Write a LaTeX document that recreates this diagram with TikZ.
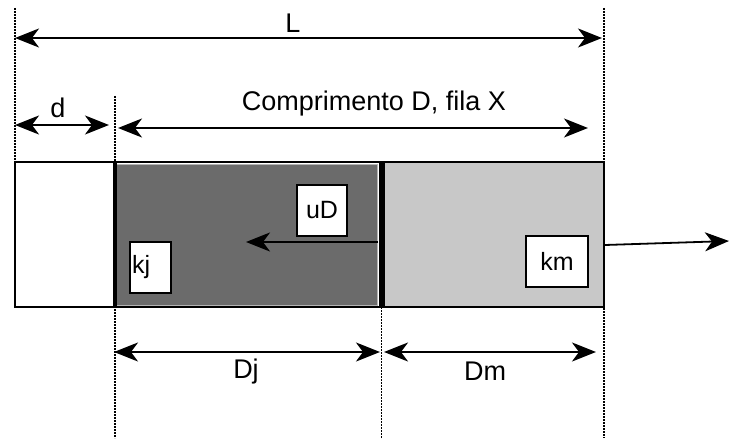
\documentclass[tikz,border=0pt]{standalone}
\usepackage{fontspec}
\setmainfont{Liberation Sans}
\usetikzlibrary{arrows.meta}
\definecolor{darkfill}{HTML}{6B6B6B}
\definecolor{lightfill}{HTML}{C8C8C8}
\definecolor{innerline}{HTML}{B4B4B4}
\begin{document}
\begin{tikzpicture}[x=1pt,y=-1pt,
  dim/.style={line width=1.8pt, {Stealth[length=24pt,width=19pt,inset=7pt]}-{Stealth[length=24pt,width=19pt,inset=7pt]}},
  single/.style={line width=1.8pt, -{Stealth[length=24pt,width=19pt,inset=7pt]}},
  guide/.style={line width=1.3pt, dash pattern=on 1.6pt off 1.4pt},
  lbl/.style={font=\fontsize{27pt}{32pt}\selectfont, inner sep=0pt},
  tag/.style={draw, line width=1.8pt, fill=white, font=\fontsize{25pt}{30pt}\selectfont, inner sep=0pt}
]
\useasboundingbox (0,0) rectangle (729,444);

% regions
\fill[white] (15,162) rectangle (115,307);
\draw[innerline, fill=darkfill, line width=1pt] (116.5,164) rectangle (377.5,305.5);
\fill[lightfill] (384,163) rectangle (604,306);
\draw[line width=2pt] (15,162) rectangle (604,307);
\draw[line width=3.5pt] (115,162) -- (115,307);
\draw[line width=6pt] (381.5,162) -- (381.5,307);

% guides
\coordinate (gA1) at (15,8);   \coordinate (gA2) at (15,162);
\coordinate (gB1) at (115,96); \coordinate (gB2) at (115,438);
\coordinate (gC1) at (381.5,307); \coordinate (gC2) at (381.5,438);
\coordinate (gD1) at (604,8);  \coordinate (gD2) at (604,438);
\draw[guide] (gA1) -- (gA2);
\draw[guide] (gB1) -- (gB2);
\draw[guide] (gC1) -- (gC2);
\draw[guide] (gD1) -- (gD2);

% dimension arrows
\coordinate (L1) at (15,38);   \coordinate (L2) at (602,38);
\coordinate (d1) at (15,125);  \coordinate (d2) at (109,125);
\coordinate (D1) at (118,128); \coordinate (D2) at (588,128);
\coordinate (j1) at (114,352); \coordinate (j2) at (380,352);
\coordinate (m1) at (384,352); \coordinate (m2) at (596,352);
\draw[dim] (L1) -- (L2);
\draw[dim] (d1) -- (d2);
\draw[dim] (D1) -- (D2);
\draw[dim] (j1) -- (j2);
\draw[dim] (m1) -- (m2);

\node[lbl] (tL) at (293,23) {L};
\node[lbl] (td) at (58,108) {d};
\node[lbl] (tD) at (374,104) {Comprimento D, fila X};
\node[lbl] (tj) at (246,372) {Dj};
\node[lbl] (tm) at (485,371) {Dm};

% inner tags
\node[tag, minimum width=50pt, minimum height=51pt] (uD) at (322,210.5) {uD};
\node[tag, minimum width=41pt, minimum height=51pt, text width=37pt, inner xsep=2pt, align=left] (kj) at (150.5,267.5) {kj};
\node[tag, minimum width=62pt, minimum height=51pt] (km) at (557,261.5) {km};

% motion arrows
\coordinate (u1) at (378,242); \coordinate (u2) at (246,242);
\draw[single] (u1) -- (u2);
\coordinate (x1) at (605,245); \coordinate (x2) at (729,241);
\draw[single] (x1) -- (x2);
\end{tikzpicture}
\end{document}
